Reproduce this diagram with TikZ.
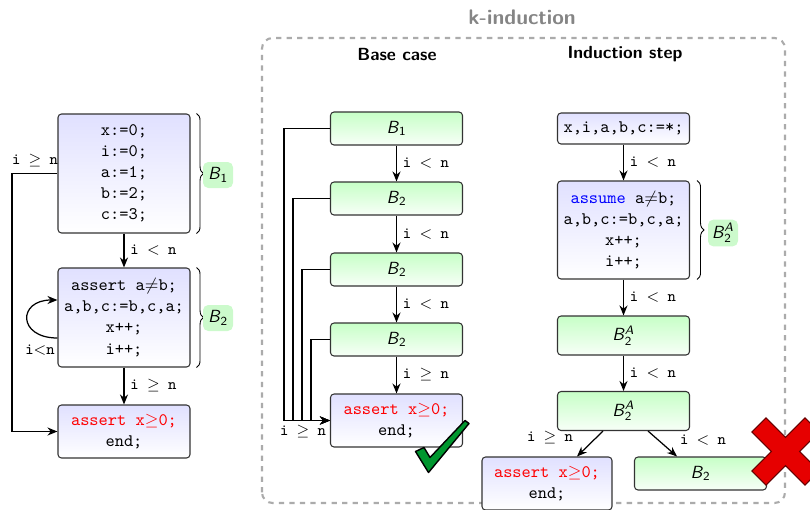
\documentclass[tikz,border=0pt]{standalone}
\usepackage{amsmath,amssymb}
\usetikzlibrary{arrows.meta, positioning, calc, decorations.pathreplacing}
\definecolor{frgray}{HTML}{ABABAB}
\definecolor{ttlgray}{HTML}{858585}
\definecolor{edgegray}{HTML}{333333}
\definecolor{blkgreen}{HTML}{CCFACC}
\definecolor{okgreen}{HTML}{00962F}
\definecolor{nored}{HTML}{E60000}
\newcommand{\blk}[1]{\textsf{\textit{B}}$_{\textsf{#1}}$}
\newcommand{\blka}[1]{\textsf{\textit{B}}$_{\textsf{#1}}^{\textsf{\textit{A}}}$}

\begin{document}
\begin{tikzpicture}[
  >={Stealth[length=2mm, width=1.6mm]},
  every node/.style={text=black},
  box/.style={rounded corners=2pt, draw=edgegray, line width=0.6pt, align=center, inner sep=3pt, font=\ttfamily, minimum width=2.64cm},
  bluebox/.style={box, top color=blue!12, bottom color=white},
  greenbox/.style={box, top color=green!22, bottom color=green!3, minimum height=0.66cm},
  flow/.style={line width=0.7pt, ->},
  cond/.style={font=\small\ttfamily},
  blktag/.style={fill=blkgreen, rounded corners=3pt, minimum width=0.6cm, minimum height=0.52cm, inner sep=2pt},
  bracedec/.style={decorate, decoration={brace, amplitude=4pt}, line width=0.5pt},
]

\useasboundingbox (0,0) rectangle (16.2,10.18);

% Title and frame
\node[font=\large\sffamily\bfseries, text=ttlgray] (title) at (10.44,9.84) {k-induction};
\draw[frgray, line width=1.2pt, dashed, rounded corners=6pt] (5.24,0.12) rectangle (15.70,9.42);
\node[font=\sffamily\bfseries] (basehd) at (7.94,9.10) {Base case};
\node[font=\sffamily\bfseries] (stephd) at (12.5,9.10) {Induction step};

% Program
\node[bluebox, minimum height=2.38cm] (lb1) at (2.48,6.71) {x:=0;\\ i:=0;\\ a:=1;\\ b:=2;\\ c:=3;};
\node[bluebox, minimum height=1.98cm] (lb2) at (2.48,3.83) {assert a$\neq$b;\\ a,b,c:=b,c,a;\\ x++;\\ i++;};
\node[bluebox, minimum height=1.06cm] (lend) at (2.48,1.55) {\textcolor{red}{assert x$\geq$0;}\\ end;};

\draw[flow] (lb1) -- (lb2) node[midway, right, cond] {i $<$ n};
\draw[flow] (lb2) -- (lend) node[midway, right, cond] {i $\geq$ n};

\coordinate (lturn) at (0.24,6.71);
\draw[flow] (lb1.west) -- (lturn) |- (lend.west);
\node[cond] (lskip) at (0.7,6.96) {i $\geq$ n};

% Loop on B2
\draw[flow] ([yshift=-0.41cm]lb2.west) .. controls +(-0.8,0) and +(-0.8,0) .. ([yshift=0.35cm]lb2.west);
\node[cond] (lloop) at (0.8,3.18) {i$<$n};

% Braces
\draw[bracedec] ([xshift=0.12cm]lb1.north east) -- ([xshift=0.12cm]lb1.south east);
\node[blktag] (tb1) at (4.36,6.68) {\blk{1}};
\draw[bracedec] ([xshift=0.12cm]lb2.north east) -- ([xshift=0.12cm]lb2.south east);
\node[blktag] (tb2) at (4.36,3.82) {\blk{2}};

% Base case
\node[greenbox] (bb1) at (7.93,7.61) {\blk{1}};
\node[greenbox] (bb2) at (7.93,6.21) {\blk{2}};
\node[greenbox] (bb3) at (7.93,4.79) {\blk{2}};
\node[greenbox] (bb4) at (7.93,3.39) {\blk{2}};
\node[bluebox, minimum height=1.06cm] (bend) at (7.93,1.77) {\textcolor{red}{assert x$\geq$0;}\\ end;};

\foreach \a/\b in {bb1/bb2, bb2/bb3, bb3/bb4}
  \draw[flow] (\a) -- (\b) node[midway, right, cond] {i $<$ n};
\draw[flow] (bb4) -- (bend) node[midway, right, cond] {i $\geq$ n};

\foreach \b/\d in {bb1/0.92, bb2/0.74, bb3/0.56, bb4/0.38}
  \draw[flow] (\b.west) -| ([xshift=-\d cm]bend.west) -- (bend.west);
\node[cond] (bskip) at (6.06,1.54) {i $\geq$ n};

% Induction step
\node[bluebox, minimum height=0.62cm] (is0) at (12.47,7.61) {x,i,a,b,c:=*;};
\node[bluebox, minimum height=1.96cm] (is1) at (12.47,5.58) {\textcolor{blue}{assume} a$\neq$b;\\ a,b,c:=b,c,a;\\ x++;\\ i++;};
\node[greenbox, minimum height=0.78cm] (is2) at (12.47,3.47) {\blka{2}};
\node[greenbox, minimum height=0.78cm] (is3) at (12.47,1.96) {\blka{2}};
\node[bluebox, minimum height=1.06cm, minimum width=2.60cm] (iend) at (10.94,0.51) {\textcolor{red}{assert x$\geq$0;}\\ end;};
\node[greenbox] (ib2) at (14.01,0.71) {\blk{2}};

\draw[flow] (is0) -- (is1) node[midway, right, cond] {i $<$ n};
\draw[flow] (is1) -- (is2) node[midway, right, cond] {i $<$ n};
\draw[flow] (is2) -- (is3) node[midway, right, cond] {i $<$ n};
\draw[flow] ([xshift=-0.41cm]is3.south) -- ([xshift=0.6cm]iend.north);
\node[cond] (iexit) at (11.0,1.42) {i $\geq$ n};
\draw[flow] ([xshift=0.49cm]is3.south) -- ([xshift=-0.47cm]ib2.north);
\node[cond] (iloop) at (14.06,1.38) {i $<$ n};

\draw[bracedec] ([xshift=0.14cm]is1.north east) -- ([xshift=0.14cm]is1.south east);
\node[blktag] (tb2a) at (14.46,5.52) {\blka{2}};

% Check mark
\filldraw[fill=okgreen, draw=black, line width=0.8pt, line join=round] (8.31,1.15) -- (8.48,1.23) -- (8.60,1.03) -- (9.30,1.77) -- (9.38,1.71) -- (8.57,0.73) -- cycle;

% Cross
\begin{scope}[shift={(15.71,1.15)}, rotate=45]
  \filldraw[fill=nored, draw=black!60!red, line width=0.6pt] (0.2,0.75) -- (0.2,0.2) -- (0.75,0.2) -- (0.75,-0.2) -- (0.2,-0.2) -- (0.2,-0.75) -- (-0.2,-0.75) -- (-0.2,-0.2) -- (-0.75,-0.2) -- (-0.75,0.2) -- (-0.2,0.2) -- (-0.2,0.75) -- cycle;
\end{scope}

\end{tikzpicture}
\end{document}
